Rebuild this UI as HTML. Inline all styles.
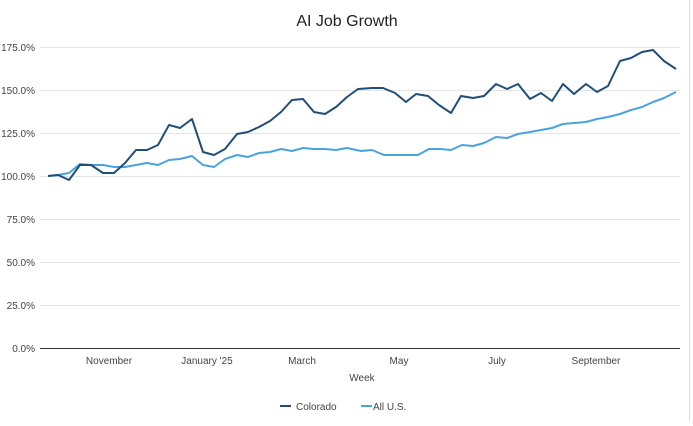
<!DOCTYPE html>
<html><head><style>
body{margin:0;background:#fff;}
text{font-family:"Liberation Sans",sans-serif;}
</style></head><body>
<svg width="693" height="421" xmlns="http://www.w3.org/2000/svg">
<rect width="693" height="421" fill="#fff"/>
<line x1="689.5" y1="0" x2="689.5" y2="421" stroke="#ddd"/>
<text x="347" y="26" text-anchor="middle" font-size="16" fill="#222">AI Job Growth</text>
<g stroke="#e4e4e4" stroke-width="1">
<line x1="40" x2="680" y1="47.5" y2="47.5"/>
<line x1="40" x2="680" y1="90.5" y2="90.5"/>
<line x1="40" x2="680" y1="133.5" y2="133.5"/>
<line x1="40" x2="680" y1="176.5" y2="176.5"/>
<line x1="40" x2="680" y1="219.5" y2="219.5"/>
<line x1="40" x2="680" y1="262.5" y2="262.5"/>
<line x1="40" x2="680" y1="305.5" y2="305.5"/>
</g>
<line x1="40" x2="680" y1="348.5" y2="348.5" stroke="#333"/>
<g font-size="10" fill="#444" text-anchor="end">
<text x="35" y="51">175.0%</text>
<text x="35" y="94">150.0%</text>
<text x="35" y="137">125.0%</text>
<text x="35" y="180">100.0%</text>
<text x="35" y="223">75.0%</text>
<text x="35" y="266">50.0%</text>
<text x="35" y="309">25.0%</text>
<text x="35" y="352">0.0%</text>
</g>
<g font-size="10" fill="#444" text-anchor="middle">
<text x="109" y="364">November</text>
<text x="207" y="364">January '25</text>
<text x="302" y="364">March</text>
<text x="399" y="364">May</text>
<text x="497" y="364">July</text>
<text x="596" y="364">September</text>
<text x="362" y="381">Week</text>
</g>
<polyline fill="none" stroke="#4aa3df" stroke-width="2" stroke-linejoin="round" points="48,176 58,175 69,173 80,164 91,165 103,165 114,167 125,167 136,165 147,163 158,165 169,160 180,159 192,156 203,165 214,167 225,159 237,155 248,157 259,153 270,152 281,149 292,151 303,148 314,149 325,149 336,150 347,148 361,151 372,150 384,155 395,155 406,155 418,155 429,149 440,149 451,150 462,145 473,146 484,143 496,137 507,138 518,134 530,132 541,130 552,128 563,124 574,123 586,122 597,119 608,117 620,114 631,110 642,107 653,102 664,98 676,92"/>
<polyline fill="none" stroke="#1f4e79" stroke-width="2" stroke-linejoin="round" points="48,176 58,175 69,180 80,165 91,165 103,173 114,173 125,163 136,150 147,150 158,145 169,125 180,128 192,119 203,152 214,155 225,149 237,134 248,132 259,127 270,121 281,112 292,100 303,99 314,112 325,114 336,107 347,97 358,89 372,88 383,88 395,93 406,102 416,94 428,96 439,105 451,113 461,96 473,98 484,96 496,84 507,89 518,84 530,99 541,93 552,101 563,84 574,94 586,84 597,92 608,86 620,61 631,58 642,52 653,50 664,61 676,69"/>
<line x1="280" x2="291" y1="406" y2="406" stroke="#1f4e79" stroke-width="2"/>
<text x="296" y="410" font-size="10" fill="#444">Colorado</text>
<line x1="361" x2="372" y1="406" y2="406" stroke="#4aa3df" stroke-width="2"/>
<text x="373" y="410" font-size="10" fill="#444">All U.S.</text>
</svg>
</body></html>
